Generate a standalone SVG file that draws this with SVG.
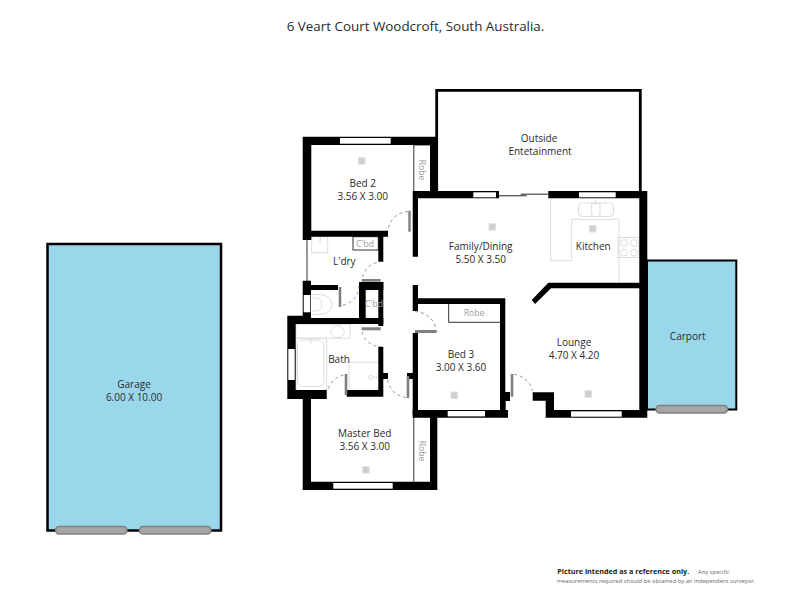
<svg xmlns="http://www.w3.org/2000/svg" width="800" height="600" viewBox="0 0 800 600">
<style>
text{font-family:"Open Sans","Noto Sans","Liberation Sans",sans-serif;font-size:10px;fill:#2a2a2a;text-anchor:middle}
.s{font-size:8.600px;fill:#9a9a9a}
.w{fill:#000}
.g{fill:#fff}
.f{fill:none;stroke:#dcdcdc;stroke-width:1}
.leaf{fill:#808080}
.arc{fill:none;stroke:#666;stroke-width:.7;stroke-dasharray:3 3}
.m{fill:#cfcfcf;stroke:#e2e2e2;stroke-width:1}
.b{fill:#9bd7ea;stroke:#000}
.d{fill:#a6a6a6;stroke:#808080;stroke-width:1.500}
.t{fill:none;stroke:#333;stroke-width:1}
</style>
<rect width="800" height="600" fill="#fff"/>
<text x="415.500" y="31" style="font-size:13.400px">6 Veart Court Woodcroft, South Australia.</text>
<g id="garage">
<rect class="b" x="47.500" y="244" width="173.500" height="286.500" stroke-width="2.500"/>
<rect class="d" x="55.500" y="526.500" width="71.500" height="7.500" rx="3.700"/>
<rect class="d" x="139.500" y="526.500" width="71.500" height="7.500" rx="3.700"/>
<text x="134" y="388">Garage</text>
<text x="134" y="401">6.00 X 10.00</text>
</g>
<g id="carport">
<path class="b" d="M647 260.500H736.300V409.500H647Z" stroke-width="2"/>
<rect class="d" x="656" y="405.500" width="71.500" height="7.500" rx="3.700"/>
<text x="687.700" y="339.500">Carport</text>
</g>
<g id="outside">
<path fill="none" stroke="#000" stroke-width="2.800" d="M436.700 192V90.300H640.300V192"/>
<text x="539" y="141.500">Outside</text>
<text x="540" y="154.500">Entetainment</text>
</g>
<g id="fixtures">
<path class="f" d="M550.700 198V260.700H571.700V219.300H619V282"/>
<rect class="f" x="578.500" y="203" width="35" height="13.500" rx="4"/>
<rect class="f" x="591.700" y="203" width="8.300" height="13.500" rx="2"/>
<path class="f" d="M595.700 200V205" stroke="#999"/>
<rect class="f" x="618" y="237.500" width="21" height="20"/>
<circle class="f" cx="624" cy="243" r="3.400"/><circle class="f" cx="634" cy="243" r="3.400"/>
<circle class="f" cx="624" cy="252.700" r="3.400"/><circle class="f" cx="634" cy="252.700" r="3.400"/>
<rect class="f" x="311.700" y="236.700" width="16" height="16"/>
<path class="f" d="M320 237V243"/>
<path class="f" d="M311.500 294.500H319C326 294.500 332 299 332 304.500C332 310 326 314.500 319 314.500H311.500"/>
<path class="f" d="M311.500 298H316C320 298 322 301 322 304.500C322 308 320 311 316 311H311.500"/>
<rect class="f" x="296" y="324.300" width="54" height="14"/>
<ellipse class="f" cx="337.500" cy="331.700" rx="6.800" ry="6"/>
<rect class="f" x="296" y="338.300" width="30.700" height="52"/>
<rect class="f" x="297.500" y="340" width="26.500" height="46.700" rx="6"/>
<path class="f" d="M311 338V343.500"/>
<path class="f" d="M378 362.300H349V390"/>
<circle class="f" cx="370.700" cy="377.300" r="2" stroke="#aaa"/>
<path class="f" d="M372.700 377.300H378"/>
</g>
<g id="thin-walls">
<path class="t" d="M307 240V281" stroke-width="1.500"/>
<path class="t" d="M413.800 145V192M413.800 145H430M414 192.500H430"/>
<path class="t" d="M413.800 415V481.700M413.800 415.500H430"/>
<rect class="t" x="353" y="236.700" width="25.300" height="13.300"/>
<path class="t" d="M448.700 304V322.300H500"/>
</g>
<g id="walls">
<path class="w" d="M302.700 136.700H437.300V192.500H430V145H311.300V230.700H388V236.700H383.300V261.700H378.300V236.700H311.300V240H302.700Z"/>
<path class="w" d="M412.700 191H647.300V417.700H545.700V400.700H532.700V392.300H554V410H639.300V288.300H551L535 304L531.700 300L548.300 282.700H639.300V198.300H418V256.700H412.700Z"/>
<path class="w" d="M412.700 285H418V298.300H505.300V392H510V401H505.700V410H508V417.700H412.700V379H407V373H412.700V333H418V410H500V304H418V311H412.700Z"/>
<path class="w" d="M302.700 280.700H311V285H338V290H311V318H383.300V324H295.700V390H326.700V399H311V481.700H430V415H412.700V410H437.300V490H302.700V399H287.300V315.700H302.700Z"/>
<rect class="w" x="359" y="282" width="24.300" height="8"/>
<rect class="w" x="359" y="282" width="6.700" height="36"/>
<rect class="w" x="378.300" y="282" width="5" height="44"/>
<path class="w" d="M378.300 346.700H383.300V373H388V379H383.300V396.700H346.700V390H378.300Z"/>
</g>
<g id="openings" fill="#fff">
<rect class="g" x="340" y="138" width="50.700" height="5.700"/>
<rect class="g" x="333.300" y="483" width="59.400" height="5.700"/>
<rect class="g" x="473.300" y="192.300" width="22.700" height="5"/>
<rect class="g" x="579" y="192.300" width="36.700" height="5"/>
<rect class="g" x="447.700" y="411" width="37.300" height="5.400"/>
<rect class="g" x="571" y="411.300" width="50.700" height="5.400"/>
<rect class="g" x="303.700" y="295" width="6.600" height="17.300"/>
<rect class="g" x="288.300" y="349" width="6.400" height="31"/>
<rect class="g" x="499" y="190" width="49.300" height="9"/>
<path d="M499 195.700H526.700" stroke="#555" stroke-width="1.300"/>
<path d="M520.700 194.200H548.300" stroke="#555" stroke-width="1.300"/>
</g>
<g id="doors">
<rect class="leaf" x="408.300" y="210.700" width="2.400" height="21"/>
<path class="arc" d="M408 211.500A21 21 0 0 0 388 231"/>
<rect class="leaf" x="361.700" y="279" width="19" height="2.700"/>
<path class="arc" d="M362.500 277A20 20 0 0 1 380 262"/>
<rect class="leaf" x="338.700" y="287" width="2.600" height="20"/>
<path class="arc" d="M343 305A20 20 0 0 0 359 286"/>
<rect class="leaf" x="361.700" y="327.300" width="19" height="3"/>
<path class="arc" d="M362 332A19 19 0 0 0 380 346.500"/>
<rect class="leaf" x="415" y="330" width="21.700" height="3"/>
<path class="arc" d="M415 311.700A21 21 0 0 1 436 330"/>
<rect class="leaf" x="344.700" y="374" width="2.600" height="21"/>
<path class="arc" d="M343.500 375A20 20 0 0 0 328 391"/>
<rect class="leaf" x="406.700" y="376" width="2.600" height="22"/>
<path class="arc" d="M406 397.500A21 21 0 0 1 387.500 379"/>
<rect class="leaf" x="510.700" y="374" width="2.600" height="22.700"/>
<path class="arc" d="M514 374.500A21 21 0 0 1 532.500 391"/>
</g>
<g id="markers">
<rect class="m" x="358.500" y="157.700" width="6.500" height="6.500"/>
<rect class="m" x="489" y="223.700" width="6.500" height="6.500"/>
<rect class="m" x="589.500" y="225.500" width="6.500" height="6.500"/>
<rect class="m" x="362.700" y="466.700" width="6.500" height="6.500"/>
<rect class="m" x="451" y="392" width="6.500" height="6.500"/>
<rect class="m" x="585" y="390.700" width="6.500" height="6.500"/>
</g>
<g id="labels">
<text x="362.700" y="186.700">Bed 2</text><text x="362.700" y="199.700">3.56 X 3.00</text>
<text x="480.700" y="250">Family/Dining</text><text x="480.700" y="263">5.50 X 3.50</text>
<text x="593.300" y="249.500">Kitchen</text>
<text x="574" y="346">Lounge</text><text x="574" y="358.700">4.70 X 4.20</text>
<text x="344.300" y="265.300">L'dry</text>
<text x="339" y="362.700">Bath</text>
<text x="364.700" y="436.700">Master Bed</text><text x="364.700" y="449.700">3.56 X 3.00</text>
<text x="461" y="357.700">Bed 3</text><text x="461" y="371">3.00 X 3.60</text>
<text class="s" x="365" y="246.500">C'bd</text>
<text class="s" x="374" y="306.500">C'bd</text>
<text class="s" x="474" y="316">Robe</text>
<text class="s" transform="translate(418.500 170) rotate(90)">Robe</text>
<text class="s" transform="translate(418.800 451) rotate(90)">Robe</text>
</g>
<g id="note">
<text x="557.300" y="574" style="font-size:7.200px;font-weight:700;text-anchor:start;fill:#222">Picture intended as a reference only.</text>
<text x="698" y="574" style="font-size:5.800px;text-anchor:start;fill:#666">Any specific</text>
<text x="556.700" y="582.700" style="font-size:5.800px;text-anchor:start;fill:#666">measurements required should be obtained by an independent surveyor.</text>
</g>
</svg>
